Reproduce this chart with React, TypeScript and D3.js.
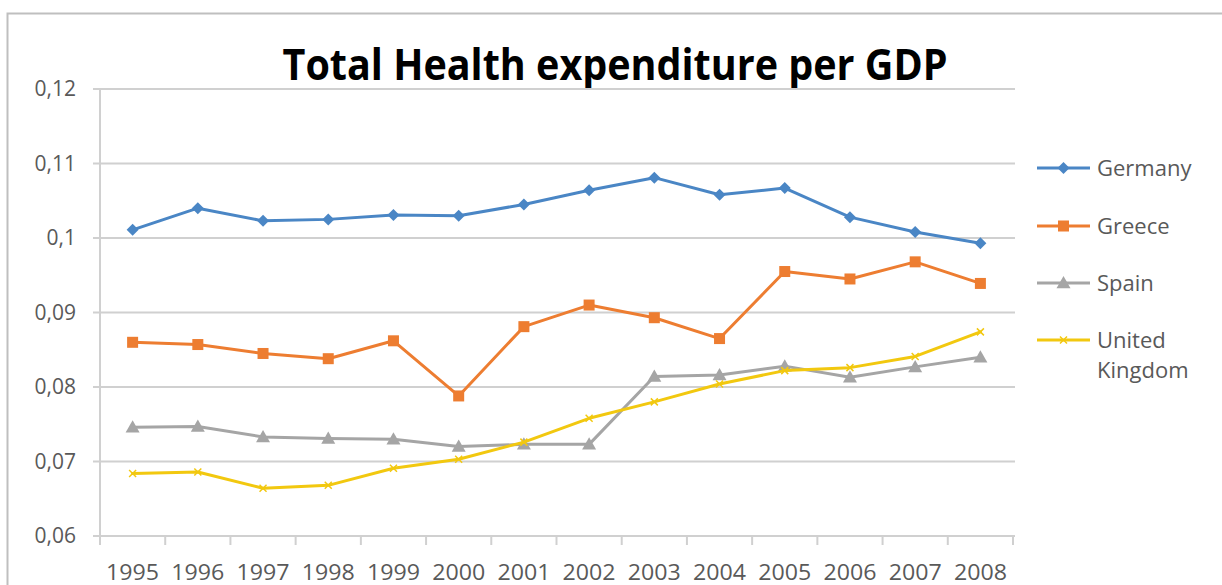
import React from "react";
import * as d3 from "d3";

const years = ["1995","1996","1997","1998","1999","2000","2001","2002","2003","2004","2005","2006","2007","2008"];
const germany = [0.1011,0.1040,0.1023,0.1025,0.1031,0.1030,0.1045,0.1064,0.1081,0.1058,0.1067,0.1028,0.1008,0.0993];
const greece = [0.0860,0.0857,0.0845,0.0838,0.0862,0.0788,0.0881,0.0910,0.0893,0.0865,0.0955,0.0945,0.0968,0.0939];
const spain = [0.0746,0.0747,0.0733,0.0731,0.0730,0.0720,0.0723,0.0723,0.0814,0.0816,0.0828,0.0813,0.0827,0.0840];
const uk = [0.0684,0.0686,0.0664,0.0668,0.0691,0.0703,0.0726,0.0758,0.0780,0.0804,0.0822,0.0826,0.0841,0.0874];
const yTicks = [0.06,0.07,0.08,0.09,0.10,0.11,0.12];
const yTickLabels = ["0,06","0,07","0,08","0,09","0,1","0,11","0,12"];
const seriesNames = ["Germany","Greece","Spain","United Kingdom"];

const W = 1222, H = 585;
const X0 = 100, X1 = 1013, YTOP = 89, YBOT = 536;
const FONT = "'Open Sans', 'Noto Sans', sans-serif";

export default function App() {
  const x = d3.scaleBand<string>().domain(years).range([X0, X1]).padding(0);
  const y = d3.scaleLinear().domain([0.06, 0.12]).range([YBOT, YTOP]);
  const cx = (yr: string) => (x(yr) as number) + x.bandwidth() / 2;

  const series = [
    { name: seriesNames[0], values: germany, color: "#4A86C5", marker: "diamond" },
    { name: seriesNames[1], values: greece, color: "#ED7D31", marker: "square" },
    { name: seriesNames[2], values: spain, color: "#A5A5A5", marker: "triangle" },
    { name: seriesNames[3], values: uk, color: "#F2C80F", marker: "x" },
  ];

  const line = d3.line<number>().x((_, i) => cx(years[i])).y((v) => y(v));

  const marker = (type: string, px: number, py: number, color: string, key: string) => {
    if (type === "diamond") {
      const s = 6;
      return <path key={key} d={`M${px},${py - s}L${px + s},${py}L${px},${py + s}L${px - s},${py}Z`} fill={color} />;
    }
    if (type === "square") {
      const s = 5.5;
      return <rect key={key} x={px - s} y={py - s} width={2 * s} height={2 * s} fill={color} />;
    }
    if (type === "triangle") {
      const s = 7;
      return <path key={key} d={`M${px},${py - s}L${px + s},${py + s * 0.75}L${px - s},${py + s * 0.75}Z`} fill={color} />;
    }
    const s = 3.5;
    return <path key={key} d={`M${px - s},${py - s}L${px + s},${py + s}M${px + s},${py - s}L${px - s},${py + s}`} stroke={color} strokeWidth={1.5} fill="none" />;
  };

  const legendY = [168, 226, 283, 340];

  return (
    <svg width={W} height={H} style={{ position: "fixed", left: 0, top: 0, background: "#fff" }} fontFamily={FONT}>
      <rect x={0} y={0} width={W} height={H} fill="#fff" />
      <rect x={7.5} y={13.5} width={W + 20} height={H + 20} fill="none" stroke="#BFBFBF" strokeWidth={2} />
      <text x={615} y={80} textAnchor="middle" fontSize={43} fontWeight={700} fill="#000" textLength={665} lengthAdjust="spacingAndGlyphs">Total Health expenditure per GDP</text>

      {yTicks.map((t, i) => (
        <g key={"g" + i}>
          <line x1={93} x2={X1 + 2} y1={y(t)} y2={y(t)} stroke="#D0D0D0" strokeWidth={2} />
          <text x={76} y={y(t)} dy="0.35em" textAnchor="end" fontSize={21} fill="#595959">{yTickLabels[i]}</text>
        </g>
      ))}
      <line x1={X0} x2={X0} y1={YTOP} y2={YBOT + 9} stroke="#D0D0D0" strokeWidth={2} />
      <line x1={X0} x2={X1 + 2} y1={YBOT} y2={YBOT} stroke="#D0D0D0" strokeWidth={2} />
      {years.map((yr, i) => (
        <line key={"tk" + i} x1={(x(yr) as number) + x.bandwidth()} x2={(x(yr) as number) + x.bandwidth()} y1={YBOT} y2={YBOT + 9} stroke="#D0D0D0" strokeWidth={2} />
      ))}
      {years.map((yr) => (
        <text key={"yl" + yr} x={cx(yr)} y={580} textAnchor="middle" fontSize={21} fill="#595959" textLength={53} lengthAdjust="spacingAndGlyphs">{yr}</text>
      ))}

      {series.map((s) => (
        <g key={s.name}>
          <path d={line(s.values) || ""} fill="none" stroke={s.color} strokeWidth={3} strokeLinejoin="round" strokeLinecap="round" />
          {s.values.map((v, i) => marker(s.marker, cx(years[i]), y(v), s.color, s.name + i))}
        </g>
      ))}

      {series.map((s, i) => (
        <g key={"lg" + s.name}>
          <line x1={1037} x2={1090} y1={legendY[i]} y2={legendY[i]} stroke={s.color} strokeWidth={3} />
          {marker(s.marker, 1063.5, legendY[i], s.color, "lm" + i)}
          {i < 3 ? (
            <text x={1097} y={legendY[i]} dy="0.35em" fontSize={22} fill="#595959">{s.name}</text>
          ) : (
            <text x={1097} y={legendY[i]} dy="0.35em" fontSize={22} fill="#595959">
              <tspan x={1097}>United</tspan>
              <tspan x={1097} dy={30}>Kingdom</tspan>
            </text>
          )}
        </g>
      ))}
    </svg>
  );
}
